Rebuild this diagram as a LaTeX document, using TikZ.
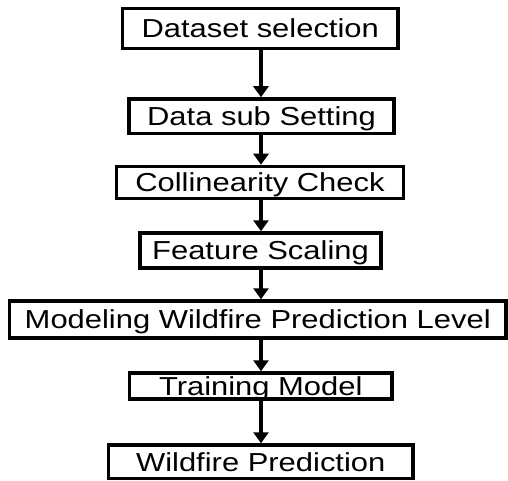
\documentclass[tikz,border=0pt]{standalone}
\usepackage{fontspec}
\setmainfont{Liberation Sans}[FakeStretch=1.19]
\usetikzlibrary{arrows.meta}
\begin{document}
\begin{tikzpicture}[x=1pt,y=1pt,
  stepbox/.style={draw=black, line width=3.5pt, inner sep=0pt, fill=white,
    font=\fontsize{26}{31}\selectfont, text height=18.6pt, text depth=0pt, anchor=center},
  flowarrow/.style={line width=3.5pt, -{Triangle[width=15pt,length=11pt]}}
]
\useasboundingbox (0,0) rectangle (508,-481);
\coordinate (col) at (261,0);
\node[stepbox, minimum width=275.5pt, minimum height=40pt] (n1) at (260.25,-28.5) {Dataset selection};
\node[stepbox, minimum width=265pt, minimum height=34.5pt] (n2) at (261.5,-116.25) {Data sub Setting};
\node[stepbox, minimum width=287pt, minimum height=32pt] (n3) at (260,-182.5) {Collinearity Check};
\node[stepbox, minimum width=241pt, minimum height=35pt] (n4) at (260.5,-250.5) {Feature Scaling};
\node[stepbox, minimum width=496.5pt, minimum height=37pt] (n5) at (257.75,-319.5) {Modeling Wildfire Prediction Level};
\node[stepbox, minimum width=262.5pt, minimum height=26pt] (n6) at (260.75,-386) {Training Model};
\node[stepbox, minimum width=304.5pt, minimum height=33.5pt] (n7) at (260.75,-461.75) {Wildfire Prediction};
\draw[flowarrow] (n1.south -| col) -- (n2.north -| col);
\draw[flowarrow] (n2.south -| col) -- (n3.north -| col);
\draw[flowarrow] (n3.south -| col) -- (n4.north -| col);
\draw[flowarrow] (n4.south -| col) -- (n5.north -| col);
\draw[flowarrow] (n5.south -| col) -- (n6.north -| col);
\draw[flowarrow] (n6.south -| col) -- (n7.north -| col);
\end{tikzpicture}
\end{document}
